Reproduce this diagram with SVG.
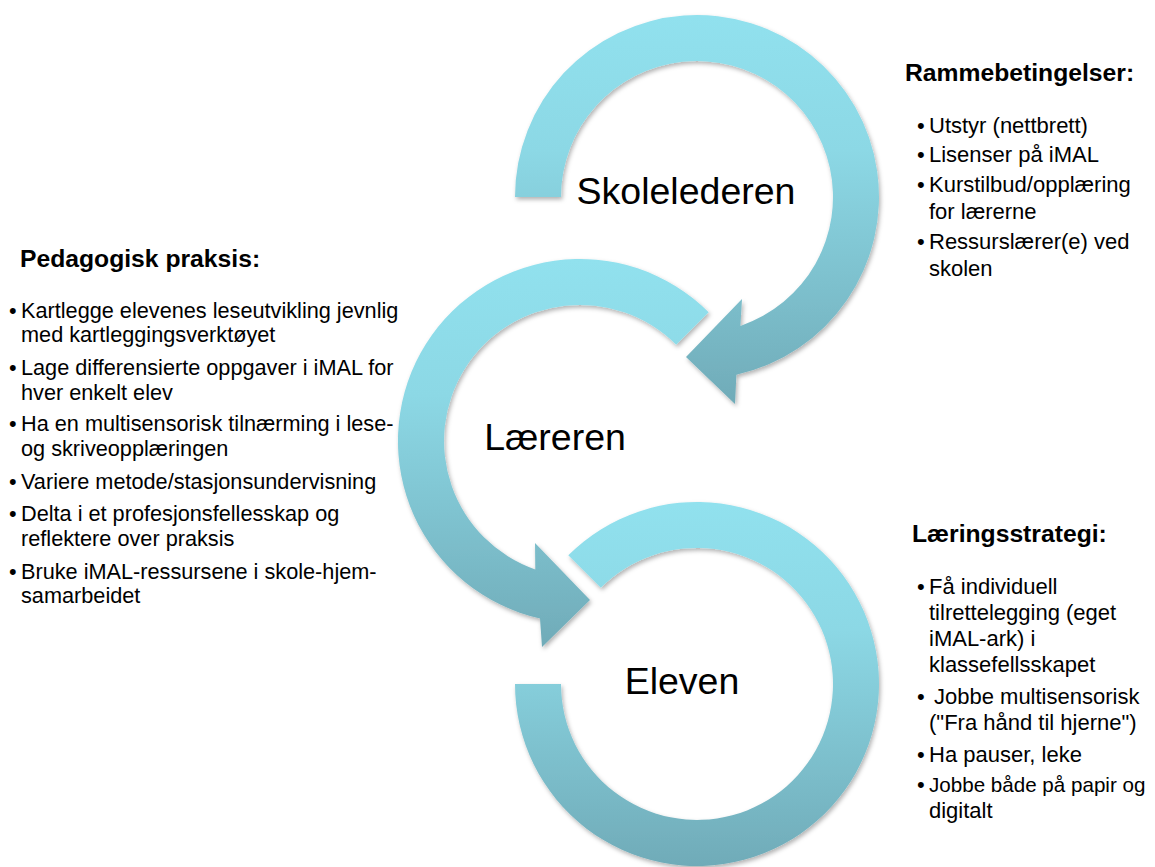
<svg xmlns="http://www.w3.org/2000/svg" width="1155" height="867" viewBox="0 0 1155 867">
<style>
.ring{filter:url(#sh)}
.lbl{font-family:"Liberation Sans",Arial,sans-serif;font-size:37.5px;fill:#000;text-anchor:middle}
.hd{font-family:"Liberation Sans",Arial,sans-serif;font-size:24.7px;font-weight:bold;fill:#000}
.tx{font-family:"Liberation Sans",Arial,sans-serif;font-size:22px;fill:#000}
.tl{font-size:21.7px}
.sm{font-size:20.6px}
</style>
<defs>
<linearGradient id="g" x1="0" y1="0" x2="0" y2="1">
<stop offset="0" stop-color="#91E1EE"/>
<stop offset="0.35" stop-color="#8CD8E5"/>
<stop offset="1" stop-color="#70ABB8"/>
</linearGradient>
<filter id="sh" x="-10%" y="-10%" width="120%" height="120%">
<feDropShadow dx="1.5" dy="2.5" stdDeviation="2" flood-color="#000" flood-opacity="0.3"/>
</filter>
</defs>
<rect width="1155" height="867" fill="#fff"/>

<g id="node-skolelederen">
<path class="ring" fill="url(#g)" d="M 515 197 A 182 182 0 1 1 736.4 374.7 L 735 404 L 686 357 L 742 299 L 740.4 325.9 A 136 136 0 1 0 561 197 Z"/>
<text class="lbl" x="686" y="204">Skolelederen</text>
</g>

<g id="node-laereren">
<path class="ring" fill="url(#g)" d="M 708.7 312.3 A 182 182 0 1 0 540 618.5 L 542 647 L 590 600 L 535 543 L 535.3 569.4 A 136 136 0 1 1 676.2 344.8 Z"/>
<text class="lbl" x="555" y="450">Læreren</text>
</g>

<g id="node-eleven">
<path class="ring" fill="url(#g)" d="M 568.3 555.3 A 182 182 0 1 1 515 684 L 561 684 A 136 136 0 1 0 600.8 587.8 Z"/>
<text class="lbl" x="682" y="694">Eleven</text>
</g>

<g id="connectors"></g>

<g id="box-pedagogisk">
<text class="hd" x="20" y="267">Pedagogisk praksis:</text>
<g class="tx tl">
<text x="9" y="318">•</text><text x="21" y="318">Kartlegge elevenes leseutvikling jevnlig</text>
<text x="21" y="342">med kartleggingsverktøyet</text>
<text x="9" y="375">•</text><text x="21" y="375">Lage differensierte oppgaver i iMAL for</text>
<text x="21" y="400">hver enkelt elev</text>
<text x="9" y="431">•</text><text x="21" y="431">Ha en multisensorisk tilnærming i lese-</text>
<text x="21" y="456">og skriveopplæringen</text>
<text x="9" y="489">•</text><text x="21" y="489">Variere metode/stasjonsundervisning</text>
<text x="9" y="521">•</text><text x="21" y="521">Delta i et profesjonsfellesskap og</text>
<text x="21" y="546">reflektere over praksis</text>
<text x="9" y="579">•</text><text x="21" y="579">Bruke iMAL-ressursene i skole-hjem-</text>
<text x="21" y="603">samarbeidet</text>
</g>
</g>

<g id="box-rammebetingelser">
<text class="hd" x="905" y="81">Rammebetingelser:</text>
<g class="tx">
<text x="917" y="133">•</text><text x="929" y="133">Utstyr (nettbrett)</text>
<text x="917" y="162">•</text><text x="929" y="162">Lisenser på iMAL</text>
<text x="917" y="192">•</text><text x="929" y="192">Kurstilbud/opplæring</text>
<text x="929" y="219">for lærerne</text>
<text x="917" y="249">•</text><text x="929" y="249">Ressurslærer(e) ved</text>
<text x="929" y="276">skolen</text>
</g>
</g>

<g id="box-laeringsstrategi">
<text class="hd" x="912" y="542">Læringsstrategi:</text>
<g class="tx">
<text x="917" y="594">•</text><text x="929" y="594">Få individuell</text>
<text x="929" y="620">tilrettelegging (eget</text>
<text x="929" y="646">iMAL-ark) i</text>
<text x="929" y="672">klassefellsskapet</text>
<text x="917" y="704">•</text><text x="934" y="704">Jobbe multisensorisk</text>
<text x="929" y="730">("Fra hånd til hjerne")</text>
<text x="917" y="762">•</text><text x="929" y="762">Ha pauser, leke</text>
<text x="917" y="792">•</text><text class="sm" x="929" y="792">Jobbe både på papir og</text>
<text x="929" y="818">digitalt</text>
</g>
</g>
</svg>
